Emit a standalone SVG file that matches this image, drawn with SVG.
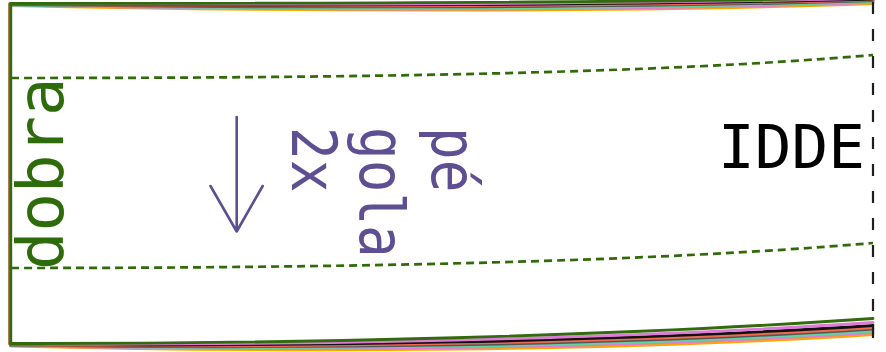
<svg xmlns="http://www.w3.org/2000/svg" width="886" height="352" viewBox="0 0 886 352">
<style>
.edge{fill:none;stroke-width:2.8;stroke-linecap:round}
.fold{fill:none;stroke:#2f6b08;stroke-width:2.7;stroke-dasharray:8 5}
.cut{fill:none;stroke:#1e1e1e;stroke-width:2.2;stroke-dasharray:12 15;stroke-dashoffset:-2}
.mono{font-family:"DejaVu Sans Mono","Liberation Mono",monospace}
.purple{fill:#5d4f91}
.arrow{fill:none;stroke:#5d4f91;stroke-width:2.6;stroke-linecap:round;stroke-linejoin:round}
</style>
<rect x="0" y="0" width="886" height="352" fill="#ffffff"/>
<g id="outline">
  <!-- top bundle -->
  <path class="edge" stroke="#ffa500" d="M10.5,5.5 C300,12 650,12 873,3.5"/>
  <path class="edge" stroke="#e07ad8" d="M10.5,5.2 C300,10.8 650,10.5 873,2.4"/>
  <path class="edge" stroke="#5fd3a0" d="M10.5,5 C300,9.6 650,9.2 873,1.5"/>
  <path class="edge" stroke="#555555" d="M10.5,4.7 C300,8.4 650,7.8 873,0.6"/>
  <path class="edge" stroke="#f06a50" d="M10.5,4.4 C300,7.2 650,6.4 873,-0.2"/>
  <path class="edge" stroke="#111111" d="M10.5,4.1 C300,6 650,5 873,-1"/>
  <path class="edge" stroke="#e07ad8" d="M10.5,3.8 C300,4.8 650,3.7 873,-1.8"/>
  <path class="edge" stroke="#326b0e" d="M10.5,3.5 C300,3.5 650,2.5 873,-2.5"/>
  <!-- bottom bundle -->
  <path class="edge" stroke="#ffa500" d="M10.5,346 C300,353 620,351 873,334.5"/>
  <path class="edge" stroke="#e07ad8" d="M10.5,345.7 C300,351.8 620,349 873,332.5"/>
  <path class="edge" stroke="#5fd3a0" d="M10.5,345.4 C300,350.6 620,347.2 873,331"/>
  <path class="edge" stroke="#555555" d="M10.5,345.1 C300,349.4 620,345.4 873,329"/>
  <path class="edge" stroke="#f06a50" d="M10.5,344.8 C300,348.2 620,343.6 873,327.5"/>
  <path class="edge" stroke="#111111" d="M10.5,344.4 C300,347 620,341.6 873,325.5"/>
  <path class="edge" stroke="#e07ad8" d="M10.5,344 C300,345.6 620,339 873,322.5"/>
  <path class="edge" stroke="#326b0e" d="M10.5,343.5 C300,344 620,336 873,318.5"/>
  <!-- left edge -->
  <path class="edge" stroke="#a07040" d="M9.5,4 L9.5,344"/>
  <path class="edge" stroke="#326b0e" d="M10.8,3.5 L10.8,343.5"/>
  <!-- right cut edge -->
  <path class="cut" d="M873,0 L873,352"/>
</g>
<g id="fold-lines">
  <path class="fold" d="M11,78 C350,78 650,74 873,55"/>
  <path class="fold" d="M11,268 C350,268 650,262 873,243"/>
</g>
<g id="label-dobra">
  <text class="mono" font-size="64" fill="#2e6b0a" transform="translate(63,270) rotate(-90)" x="0" y="0">dobra</text>
</g>
<g id="grain-arrow">
  <path class="arrow" d="M236.7,117 L236.7,231.5 M210.5,186 L236.7,231.5 L262.7,186"/>
</g>
<g id="label-pe-gola" class="purple">
  <text class="mono" font-size="62" transform="translate(432,127) rotate(90) scale(0.876,1)" x="0" y="0">pé</text>
  <text class="mono" font-size="62" transform="translate(360,127) rotate(90) scale(0.876,1)" x="0" y="0">gola</text>
  <text class="mono" font-size="62" transform="translate(292,127) rotate(90) scale(0.876,1)" x="0" y="0">2x</text>
</g>
<g id="label-idde">
  <text class="mono" font-size="61" fill="#000000" x="718" y="168">IDDE</text>
</g>
</svg>
